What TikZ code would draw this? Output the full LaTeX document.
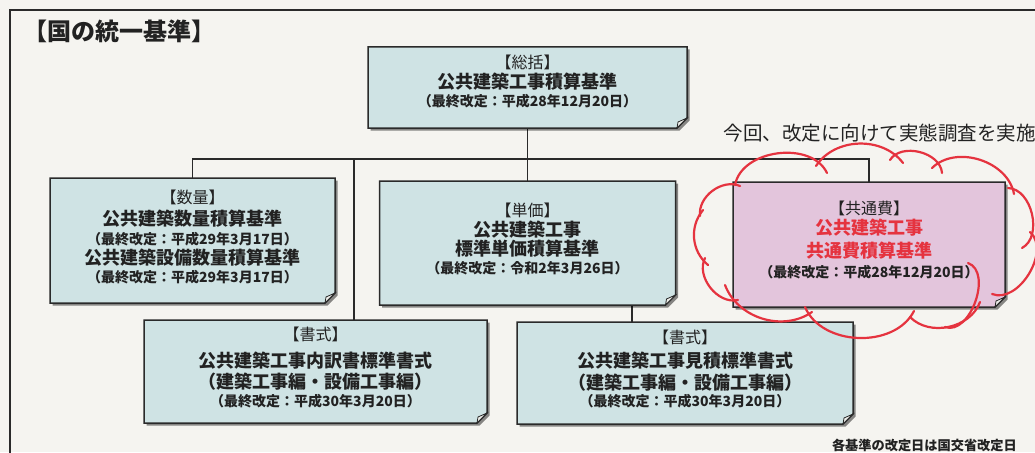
\documentclass[tikz,border=0pt]{standalone}
\usepackage{fontspec}
\setmainfont{Noto Sans CJK JP}
\usetikzlibrary{shadows,calc}
\definecolor{paper}{HTML}{F5F4F0}
\definecolor{boxblue}{HTML}{CFE3E4}
\definecolor{boxpink}{HTML}{E3C5DC}
\definecolor{redc}{HTML}{E5333F}
\definecolor{txtc}{HTML}{222222}
\definecolor{linec}{HTML}{2A2A2A}
\definecolor{curlc}{HTML}{EEEEEA}
\newcommand\paperbox[2]{%
  \filldraw[boxline, fill=#2, drop shadow={shadow xshift=2.5pt, shadow yshift=-2.5pt, fill=black, opacity=0.45}]
    (#1.north west) -- (#1.north east) -- ([yshift=10pt]#1.south east)
    -- ([xshift=-10pt]#1.south east) -- (#1.south west) -- cycle;
  \filldraw[boxline, fill=curlc, line width=0.8pt]
    ([yshift=10pt]#1.south east) .. controls ([xshift=-4pt,yshift=8pt]#1.south east) ..
    ([xshift=-9pt,yshift=6pt]#1.south east) -- ([xshift=-10pt]#1.south east) -- cycle;
}
\begin{document}
\begin{tikzpicture}[x=1pt,y=1pt,
  boxarea/.style={inner sep=0pt, outer sep=0pt},
  boxline/.style={draw=linec, line width=1.5pt},
  txt/.style={inner sep=0pt, text=txtc},
  head/.style={txt, font=\fontsize{16}{16}\selectfont},
  ttl/.style={txt, font=\bfseries\fontsize{18}{18}\selectfont},
  date/.style={txt, font=\bfseries\fontsize{14}{14}\selectfont},
  redttl/.style={ttl, text=redc},
  conn/.style={draw=linec, line width=1.3pt},
  frame/.style={draw=linec, line width=2pt},
  cloudline/.style={draw=redc, line width=2.2pt, line cap=round}]
\useasboundingbox (0,0) rectangle (1035,-452);
\fill[paper] (0,0) rectangle (1035,-452);
\begin{scope}
\clip (0,0) rectangle (1035,-452);
\draw[frame] (10,-470) -- (10,-10) -- (1050,-10);

% box areas
\node[boxarea, minimum width=319pt, minimum height=81pt] (sokatsu) at (527.5,-87.5) {};
\node[boxarea, minimum width=285pt, minimum height=125pt] (suryo) at (192.5,-240.5) {};
\node[boxarea, minimum width=296pt, minimum height=124pt] (tanka) at (527.5,-243) {};
\node[boxarea, minimum width=272pt, minimum height=125pt] (kyotsu) at (869,-244.5) {};
\node[boxarea, minimum width=343pt, minimum height=103pt] (shoL) at (315.5,-371.5) {};
\node[boxarea, minimum width=336pt, minimum height=102pt] (shoR) at (685,-373) {};

% connectors
\coordinate (bus) at (0,-159);
\coordinate (jL) at (354,-159);
\coordinate (jR) at (632,0);
\draw[conn] (sokatsu.south) -- (tanka.north);
\draw[conn] (suryo.north) -- (suryo.north |- bus) -- (kyotsu.north |- bus) -- (kyotsu.north);
\draw[conn] (jL) -- (jL |- shoL.north);
\draw[conn] (jR |- tanka.south) -- (jR |- shoR.north);

% boxes
\paperbox{sokatsu}{boxblue}
\paperbox{suryo}{boxblue}
\paperbox{tanka}{boxblue}
\paperbox{kyotsu}{boxpink}
\paperbox{shoL}{boxblue}
\paperbox{shoR}{boxblue}

% titles
\node[anchor=west, txt, font=\bfseries\fontsize{24}{24}\selectfont] (title) at (23,-31) {【国の統一基準】};
\node[anchor=east, txt, font=\fontsize{19.5}{19.5}\selectfont] (survey) at (1036,-133) {今回、改定に向けて実態調査を実施};
\node[anchor=east, txt, font=\bfseries\fontsize{13.2}{13.2}\selectfont] (note) at (1017,-445) {各基準の改定日は国交省改定日};

% sokatsu
\node[head] (sokatsuH) at (527.5,-62) {【総括】};
\node[ttl] (sokatsuT) at (527.5,-82) {公共建築工事積算基準};
\node[date] (sokatsuD) at (527.5,-101) {（最終改定：平成28年12月20日）};
% suryo
\node[head] (suryoH) at (192.5,-197) {【数量】};
\node[ttl] (suryoT1) at (192.5,-219) {公共建築数量積算基準};
\node[date] (suryoD1) at (192.5,-239) {（最終改定：平成29年3月17日）};
\node[ttl] (suryoT2) at (192.5,-258) {公共建築設備数量積算基準};
\node[date] (suryoD2) at (192.5,-277) {（最終改定：平成29年3月17日）};
% tanka
\node[head] (tankaH) at (527.5,-210) {【単価】};
\node[ttl] (tankaT1) at (527.5,-230) {公共建築工事};
\node[ttl] (tankaT2) at (527.5,-249) {標準単価積算基準};
\node[date] (tankaD) at (527.5,-268) {（最終改定：令和2年3月26日）};
% kyotsu
\node[head] (kyotsuH) at (869,-208) {【共通費】};
\node[redttl] (kyotsuT1) at (869,-228) {公共建築工事};
\node[redttl] (kyotsuT2) at (869,-251) {共通費積算基準};
\node[date] (kyotsuD) at (869,-272) {（最終改定：平成28年12月20日）};
% shoshiki L
\node[head] (shoLH) at (315.5,-334) {【書式】};
\node[ttl] (shoLT) at (315.5,-361) {公共建築工事内訳書標準書式};
\node[ttl] (shoLP) at (315.5,-382) {（建築工事編・設備工事編）};
\node[date] (shoLD) at (315.5,-401) {（最終改定：平成30年3月20日）};
% shoshiki R
\node[head] (shoRH) at (685,-337) {【書式】};
\node[ttl] (shoRT) at (685,-361) {公共建築工事見積標準書式};
\node[ttl] (shoRP) at (685,-383) {（建築工事編・設備工事編）};
\node[date] (shoRD) at (685,-401) {（最終改定：平成30年3月20日）};

% cloud: hand-drawn overlapping arcs
\draw[cloudline] (735,-185) to[bend left=72] (827,-173);
\draw[cloudline] (816,-166) to[bend left=55] (903,-163);
\draw[cloudline] (890,-160) to[bend left=72] (942,-173);
\draw[cloudline] (932,-168) to[bend left=62] (1014,-194);
\draw[cloudline] (1008,-188) to[bend left=75] (1022,-248);
\draw[cloudline] (1030,-232) to[bend left=80] (992,-294);
\draw[cloudline] (968,-263) to[bend left=90] (945,-327);
\draw[cloudline] (980,-302) to[bend left=58] (910,-317);
\draw[cloudline] (914,-311) to[bend left=65] (805,-307);
\draw[cloudline] (812,-312) to[bend left=52] (725,-285);
\draw[cloudline] (738,-300) to[bend left=65] (705,-258);
\draw[cloudline] (708,-265) to[bend left=45] (703,-210);
\draw[cloudline] (700,-216) to[bend left=60] (740,-186);
\end{scope}
\end{tikzpicture}
\end{document}
